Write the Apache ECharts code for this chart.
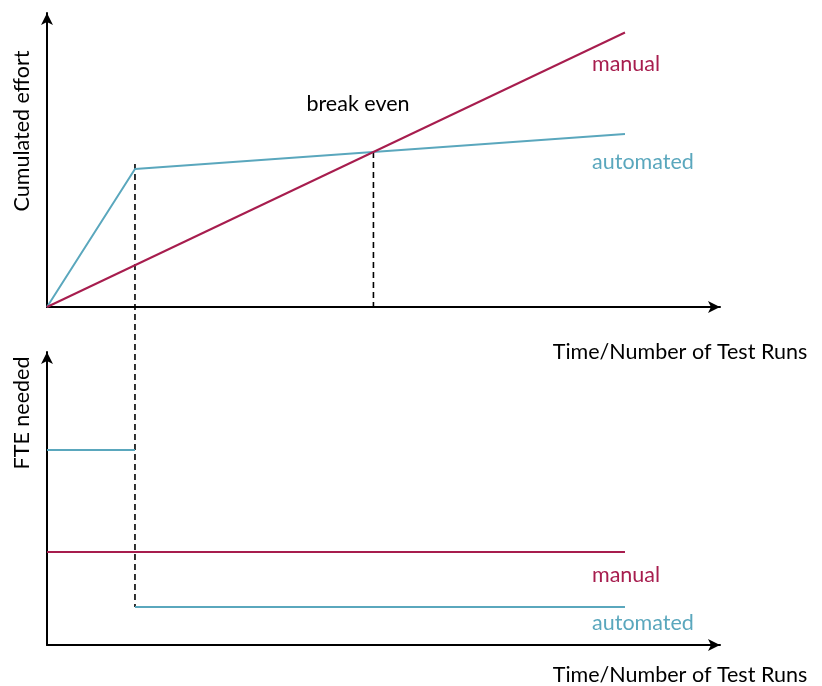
<!DOCTYPE html>
<html>
<head>
<meta charset="utf-8">
<script src="https://cdn.jsdelivr.net/npm/echarts@6/dist/echarts.min.js"></script>
<style>
  html, body { margin: 0; padding: 0; background: #fff; }
  #chart { width: 822px; height: 686px; }
</style>
</head>
<body>
<div id="chart"></div>
<script>
// x = time / number of test runs (arbitrary units), y = effort / FTE (arbitrary units)
const xMax = 76.5;
const topYMax = 29.4;
const bottomYMax = 29.3;

// top chart: cumulated effort
const manualEffort = [[0, 0], [65.7, 27.45]];
const automatedEffort = [[0, 0], [10, 13.8], [65.7, 17.3]];
const automationReadyX = 10;

// bottom chart: FTE needed
const manualFte = [[0, 9.3], [65.7, 9.3]];
const automatedFteBefore = [[0, 19.5], [10, 19.5]];
const automatedFteAfter = [[10, 3.8], [65.7, 3.8]];

const manualColor = "#a71d4e";
const autoColor = "#5aa7bd";
const font = "Lato, 'Open Sans', sans-serif";

// break even = where manual and automated (after setup) cross
function breakEven() {
  const m = (manualEffort[1][1] - manualEffort[0][1]) / (manualEffort[1][0] - manualEffort[0][0]);
  const a0 = automatedEffort[1], a1 = automatedEffort[2];
  const k = (a1[1] - a0[1]) / (a1[0] - a0[0]);
  const x = (a0[1] - k * a0[0]) / (m - k);
  return [x, m * x];
}
const be = breakEven();

const chart = echarts.init(document.getElementById("chart"));

function axisLine() {
  return {
    show: true,
    symbol: ["none", "arrow"],
    symbolSize: [9, 12],
    lineStyle: { color: "#000", width: 2 }
  };
}
function xAx(gridIndex) {
  return {
    type: "value", gridIndex: gridIndex, min: 0, max: xMax,
    axisLine: axisLine(), axisTick: { show: false },
    axisLabel: { show: false }, splitLine: { show: false }
  };
}
function yAx(gridIndex, max) {
  return {
    type: "value", gridIndex: gridIndex, min: 0, max: max,
    axisLine: axisLine(), axisTick: { show: false },
    axisLabel: { show: false }, splitLine: { show: false }
  };
}
function solid(name, data, color, xi) {
  return {
    name: name, type: "line", xAxisIndex: xi, yAxisIndex: xi, data: data,
    symbol: "none", animation: false, z: 3,
    lineStyle: { color: color, width: 2 }
  };
}
function dashed(data, xi) {
  return {
    type: "line", xAxisIndex: xi, yAxisIndex: xi, data: data,
    symbol: "none", animation: false, clip: false, z: 2,
    lineStyle: { color: "#000", width: 1.6, type: [6, 4] }
  };
}

function txt(x, y, text, color, rotate) {
  return {
    type: "text", x: x, y: y, rotation: rotate ? Math.PI / 2 : 0,
    style: {
      text: text, fill: color || "#000", font: "21.5px " + font,
      textAlign: "center", textVerticalAlign: "middle"
    }
  };
}

chart.setOption({
  animation: false,
  grid: [
    { left: 47, top: 13, width: 673, height: 294 },
    { left: 47, top: 352, width: 673, height: 293 }
  ],
  xAxis: [xAx(0), xAx(1)],
  yAxis: [yAx(0, topYMax), yAx(1, bottomYMax)],
  series: [
    // dashed line where automation is ready, runs down into the FTE chart
    dashed([[automationReadyX, 14.3], [automationReadyX, -30]], 0),
    dashed([be, [be[0], 0]], 0),
    solid("automated", automatedEffort, autoColor, 0),
    solid("manual", manualEffort, manualColor, 0),
    solid("manual", manualFte, manualColor, 1),
    solid("automated", automatedFteBefore, autoColor, 1),
    solid("automated", automatedFteAfter, autoColor, 1)
  ],
  graphic: [
    txt(22, 131, "Cumulated effort", "#000", true),
    txt(22, 413, "FTE needed", "#000", true),
    txt(626, 64, "manual", manualColor),
    txt(643, 162, "automated", autoColor),
    txt(358, 104, "break even", "#000"),
    txt(680, 352, "Time/Number of Test Runs", "#000"),
    txt(626, 575, "manual", manualColor),
    txt(643, 623, "automated", autoColor),
    txt(680, 675, "Time/Number of Test Runs", "#000")
  ]
});
</script>
</body>
</html>
